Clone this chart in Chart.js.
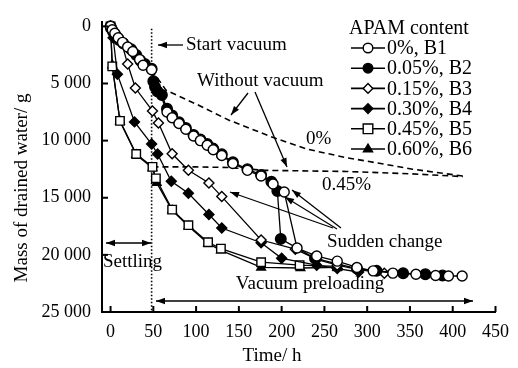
<!DOCTYPE html>
<html>
<head>
<meta charset="utf-8">
<script src="https://cdn.jsdelivr.net/npm/chart.js@4.4.1/dist/chart.umd.min.js"></script>
<style>
  html, body { margin: 0; padding: 0; background: #fff; }
  #wrap { width: 518px; height: 368px; }
</style>
</head>
<body>
<div id="wrap"><canvas id="chart" width="518" height="368"></canvas></div>
<script>
// time (h) and drained water mass (g)
const b1Time = [0, 2, 5, 9, 14, 20, 26, 34, 38, 48, 66, 72, 80, 88, 97, 105, 113, 120, 130, 143, 160, 176, 190, 203, 218, 241, 265, 288, 307, 330, 357, 380, 395, 411];
const b1Mass = [0, 300, 600, 1000, 1400, 1800, 2200, 2900, 3400, 3800, 7500, 8000, 8500, 9000, 9600, 10000, 10400, 10800, 11300, 12000, 12600, 13100, 13800, 14500, 19400, 20100, 20550, 21100, 21400, 21600, 21700, 21800, 21850, 21850];

const b2Time = [0, 1, 3, 6, 10, 15, 24, 30, 35, 40, 48, 50, 52, 55, 60, 66, 72, 80, 88, 97, 105, 113, 120, 130, 143, 160, 176, 188, 195, 199, 239, 288, 311, 342, 368, 388];
const b2Mass = [0, 200, 500, 800, 1200, 1500, 2000, 2500, 3000, 3300, 3700, 4800, 5300, 5700, 6000, 7200, 7800, 8400, 8900, 9500, 9900, 10300, 10700, 11200, 11900, 12500, 13000, 13600, 14400, 18600, 20300, 21200, 21400, 21600, 21700, 21800];

const b3Time = [0, 4, 12, 20, 29, 49, 56, 72, 91, 115, 130, 176, 216, 241, 265, 290, 320];
const b3Mass = [0, 500, 1200, 3300, 5400, 7400, 8450, 11150, 12600, 13700, 14900, 18700, 19500, 20400, 20900, 21300, 21600];

const b4Time = [0, 3, 8, 28, 48, 55, 71, 91, 115, 130, 176, 200, 241, 265, 290];
const b4Mass = [0, 1000, 4200, 8360, 10300, 11170, 13560, 14600, 16460, 17650, 18940, 20300, 20900, 21200, 21500];

const b5Time = [0, 2, 11, 30, 49, 53, 72, 91, 114, 129, 176, 221, 265];
const b5Mass = [0, 3500, 8270, 11170, 12300, 13300, 16040, 17400, 18900, 19450, 20640, 20900, 21000];

const b6Time = [0, 2, 11, 30, 49, 54, 72, 91, 114, 129, 176, 222, 265];
const b6Mass = [0, 3400, 8300, 11250, 12400, 13700, 16100, 17500, 19000, 19600, 21100, 21150, 21100];

// "without vacuum" extrapolations
const noVac0Time = [48, 65, 103, 138, 161, 187, 230, 276, 300, 353, 412];
const noVac0Mass = [3800, 5600, 6900, 8200, 8870, 9640, 10750, 11500, 11800, 12500, 13100];
const noVac45Time = [49, 100, 137, 180, 276, 350, 412];
const noVac45Mass = [12300, 12300, 12350, 12600, 12700, 12900, 13150];

// start of vacuum
const startVacTime = [48, 48];
const startVacMass = [200, 25000];

const seriesLabels = ['0%, B1', '0.05%, B2', '0.15%, B3', '0.30%, B4', '0.45%, B5', '0.60%, B6'];
const xTicks = [0, 50, 100, 150, 200, 250, 300, 350, 400, 450];
const yTicks = [0, 5000, 10000, 15000, 20000, 25000];

const SERIF = '"Liberation Serif", "Times New Roman", serif';

function pts(xs, ys) {
    return xs.map((x, i) => ({ x: x, y: ys[i] }));
}

function series(label, xs, ys, style, filled, radius) {
    return {
        label: label,
        data: pts(xs, ys),
        showLine: true,
        borderColor: '#000',
        borderWidth: 1.3,
        pointStyle: style,
        pointRadius: radius,
        pointBorderWidth: 1.4,
        pointBorderColor: '#000',
        pointBackgroundColor: filled ? '#000' : '#fff',
        legendStyle: style,
        legendFilled: filled,
        clip: false
    };
}

function guide(xs, ys, dash) {
    return {
        label: '',
        data: pts(xs, ys),
        showLine: true,
        borderColor: '#000',
        borderWidth: 1.6,
        borderDash: dash,
        pointRadius: 0,
        isGuide: true
    };
}

function fmt(v) {
    return String(v).replace(/\B(?=(\d{3})+(?!\d))/g, ' ');
}

function marker(ctx, style, filled, x, y, r) {
    ctx.save();
    ctx.beginPath();
    if (style === 'circle') {
        ctx.arc(x, y, r, 0, Math.PI * 2);
    } else if (style === 'rectRot') {
        ctx.moveTo(x, y - r); ctx.lineTo(x + r, y); ctx.lineTo(x, y + r); ctx.lineTo(x - r, y);
        ctx.closePath();
    } else if (style === 'rect') {
        const s = r * 0.8;
        ctx.rect(x - s, y - s, 2 * s, 2 * s);
    } else if (style === 'triangle') {
        ctx.moveTo(x, y - r); ctx.lineTo(x + r * 0.95, y + r * 0.6); ctx.lineTo(x - r * 0.95, y + r * 0.6);
        ctx.closePath();
    }
    ctx.fillStyle = filled ? '#000' : '#fff';
    ctx.fill();
    ctx.lineWidth = 1.4;
    ctx.strokeStyle = '#000';
    ctx.stroke();
    ctx.restore();
}

function arrow(ctx, x1, y1, x2, y2, both) {
    ctx.beginPath();
    ctx.moveTo(x1, y1);
    ctx.lineTo(x2, y2);
    ctx.stroke();
    head(ctx, x1, y1, x2, y2);
    if (both) head(ctx, x2, y2, x1, y1);
}

function head(ctx, x1, y1, x2, y2) {
    const a = Math.atan2(y2 - y1, x2 - x1);
    const len = 9, w = 3.2;
    ctx.beginPath();
    ctx.moveTo(x2, y2);
    ctx.lineTo(x2 - len * Math.cos(a) + w * Math.sin(a), y2 - len * Math.sin(a) - w * Math.cos(a));
    ctx.lineTo(x2 - len * Math.cos(a) - w * Math.sin(a), y2 - len * Math.sin(a) + w * Math.cos(a));
    ctx.closePath();
    ctx.fill();
}

const decorations = {
    id: 'decorations',
    afterDraw(chart) {
        const ctx = chart.ctx;
        const xs = chart.scales.x, ys = chart.scales.y;
        const area = chart.chartArea;
        ctx.save();
        ctx.strokeStyle = '#000';
        ctx.fillStyle = '#000';

        // inward ticks
        ctx.lineWidth = 2;
        yTicks.forEach(v => {
            const py = ys.getPixelForValue(v);
            ctx.beginPath(); ctx.moveTo(area.left, py); ctx.lineTo(area.left + 6, py); ctx.stroke();
        });
        xTicks.forEach(v => {
            const px = xs.getPixelForValue(v);
            ctx.beginPath(); ctx.moveTo(px, area.bottom); ctx.lineTo(px, area.bottom - 6); ctx.stroke();
        });

        // axis titles
        ctx.font = '19px ' + SERIF;
        ctx.textAlign = 'center';
        ctx.textBaseline = 'middle';
        ctx.fillText('Time/ h', 272, 356);
        ctx.save();
        ctx.translate(22, 188);
        ctx.rotate(-Math.PI / 2);
        ctx.fillText('Mass of drained water/ g', 0, 0);
        ctx.restore();

        // legend
        ctx.font = '20px ' + SERIF;
        ctx.textAlign = 'left';
        ctx.fillText('APAM content', 349, 29);
        const sets = chart.data.datasets.filter(d => !d.isGuide);
        sets.forEach((d, i) => {
            const y = 48 + i * 20.2;
            ctx.lineWidth = 1.6;
            ctx.beginPath(); ctx.moveTo(351, y); ctx.lineTo(385, y); ctx.stroke();
            marker(ctx, d.legendStyle, d.legendFilled, 368, y, d.legendStyle === 'rect' ? 6 : 4.8);
            ctx.fillStyle = '#000';
            ctx.fillText(d.label, 387, y + 1);
        });

        // annotations
        ctx.font = '19px ' + SERIF;
        ctx.lineWidth = 1.3;
        ctx.fillText('Start vacuum', 186, 45);
        arrow(ctx, 183, 45, 158, 45, false);

        ctx.fillText('Without vacuum', 197, 81);
        arrow(ctx, 248, 93, 231, 115, false);
        arrow(ctx, 255, 92, 287, 167, false);

        ctx.fillText('0%', 306, 139);
        ctx.fillText('0.45%', 322, 185);

        ctx.fillText('Sudden change', 327, 242);
        arrow(ctx, 333, 228, 230, 192, false);
        arrow(ctx, 341, 228, 292, 190, false);
        arrow(ctx, 337, 229, 285, 197, false);

        ctx.fillText('Settling', 103, 262);
        arrow(ctx, 106, 243, 151, 243, true);

        ctx.textAlign = 'center';
        ctx.fillText('Vacuum preloading', 310, 284);
        arrow(ctx, 156, 301, 473, 301, true);

        ctx.restore();
    }
};

new Chart(document.getElementById('chart'), {
    type: 'scatter',
    data: {
        datasets: [
            series(seriesLabels[0], b1Time, b1Mass, 'circle', false, 5),
            series(seriesLabels[1], b2Time, b2Mass, 'circle', true, 5.3),
            series(seriesLabels[2], b3Time, b3Mass, 'rectRot', false, 5),
            series(seriesLabels[3], b4Time, b4Mass, 'rectRot', true, 5),
            series(seriesLabels[4], b5Time, b5Mass, 'rect', false, 6),
            series(seriesLabels[5], b6Time, b6Mass, 'triangle', true, 5),
            guide(noVac0Time, noVac0Mass, [6, 4]),
            guide(noVac45Time, noVac45Mass, [6, 4]),
            guide(startVacTime, startVacMass, [1.5, 2])
        ]
    },
    options: {
        responsive: false,
        animation: false,
        layout: { padding: { left: 0, right: 18, top: 14, bottom: 0 } },
        plugins: {
            legend: { display: false },
            tooltip: { enabled: false }
        },
        scales: {
            x: {
                type: 'linear',
                min: -10,
                max: 450,
                afterBuildTicks: s => { s.ticks = xTicks.map(v => ({ value: v })); },
                afterFit: s => { s.height = 56; },
                grid: { display: false, drawTicks: false },
                border: { display: true, color: '#000', width: 2 },
                ticks: {
                    color: '#000',
                    padding: 9,
                    maxRotation: 0,
                    font: { family: SERIF, size: 18 }
                }
            },
            y: {
                type: 'linear',
                reverse: true,
                min: -400,
                max: 25000,
                afterBuildTicks: s => { s.ticks = yTicks.map(v => ({ value: v })); },
                afterFit: s => { s.width = 102; },
                grid: { display: false, drawTicks: false },
                border: { display: true, color: '#000', width: 2 },
                ticks: {
                    color: '#000',
                    padding: 11,
                    font: { family: SERIF, size: 18 },
                    callback: v => fmt(v)
                }
            }
        }
    },
    plugins: [decorations]
});
</script>
</body>
</html>
